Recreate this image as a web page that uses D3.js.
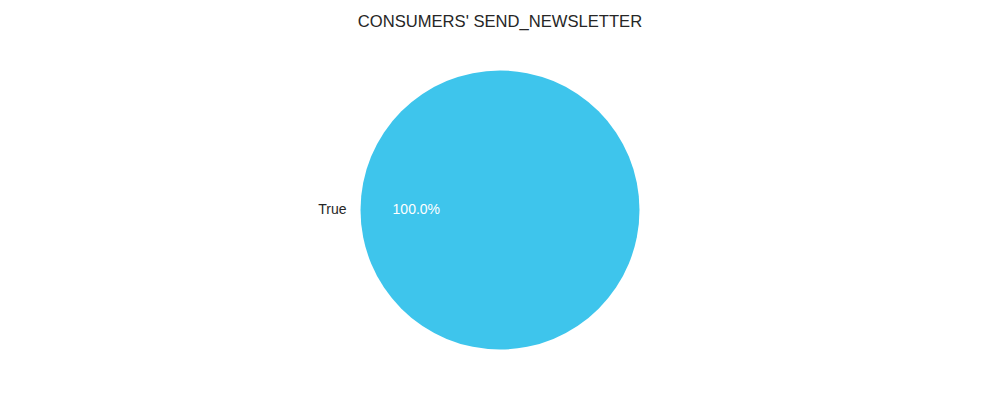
<!DOCTYPE html>
<html>
<head>
<meta charset="utf-8">
<script src="https://cdn.jsdelivr.net/npm/d3@7"></script>
<style>
  body { margin: 0; background: #fff; }
  text { font-family: "Liberation Sans", Arial, sans-serif; }
</style>
</head>
<body>
<div class="chart"></div>
<script>
// pie of send_newsletter values

var categories = ["True"];
var counts = [1];
var colors = ["#3ec5ec"];

var width = 1000,
    height = 400,
    cx = 500,
    cy = 210,
    radius = 139.5;

var svg = d3.select(".chart").append("svg")
    .attr("width", width)
    .attr("height", height);

/* title */
svg.append("text")
    .attr("x", width / 2)
    .attr("y", 27)
    .attr("text-anchor", "middle")
    .attr("font-size", "16.6px")
    .attr("fill", "#262626")
    .text("CONSUMERS' SEND_NEWSLETTER");

var total = d3.sum(counts);
var data = categories.map(function(c, i) { return {label: c, value: counts[i], color: colors[i]}; });

// matplotlib starts at 3 o'clock and goes counterclockwise
var pie = d3.pie()
    .value(function(d) { return d.value; })
    .sort(null)
    .startAngle(Math.PI / 2)
    .endAngle(Math.PI / 2 - 2 * Math.PI);

var arc = d3.arc().innerRadius(0).outerRadius(radius);

var g = svg.append("g")
    .attr("transform", "translate(" + cx + "," + cy + ")");

var slices = pie(data);

g.selectAll("path")
    .data(slices)
    .enter().append("path")
    .attr("d", arc)
    .attr("fill", function(d) { return d.data.color; });

function midPoint(d, k) {
    var a = (d.startAngle + d.endAngle) / 2;
    return [Math.sin(a) * radius * k, -Math.cos(a) * radius * k];
}

/* labels */
g.selectAll(".lbl")
    .data(slices)
    .enter().append("text")
    .attr("class", "lbl")
    .attr("x", function(d) { return midPoint(d, 1.1)[0]; })
    .attr("y", function(d) { return midPoint(d, 1.1)[1] - 0.5; })
    .attr("dy", "0.35em")
    .attr("text-anchor", function(d) { return midPoint(d, 1)[0] < 0 ? "end" : "start"; })
    .attr("font-size", "14px")
    .attr("fill", "#262626")
    .text(function(d) { return d.data.label; });

/* percents */
g.selectAll(".pct")
    .data(slices)
    .enter().append("text")
    .attr("class", "pct")
    .attr("x", function(d) { return midPoint(d, 0.6)[0]; })
    .attr("y", function(d) { return midPoint(d, 0.6)[1] - 0.5; })
    .attr("dy", "0.35em")
    .attr("text-anchor", "middle")
    .attr("font-size", "14px")
    .attr("fill", "#ffffff")
    .text(function(d) { return (d.data.value / total * 100).toFixed(1) + "%"; });
</script>
</body>
</html>
